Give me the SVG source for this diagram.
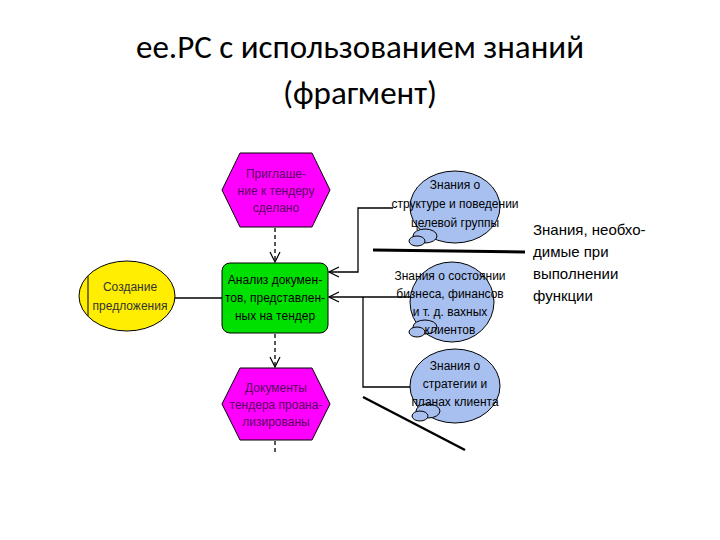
<svg xmlns="http://www.w3.org/2000/svg" width="720" height="540" viewBox="0 0 720 540">
<defs>
<style>
.t{font-family:"Liberation Sans",Arial,sans-serif;font-size:12px;text-anchor:middle;stroke:none}
.ev polygon{fill:#ff00ff;stroke:#000;stroke-width:1}
.ev text{fill:#5a0060}
.bub{fill:#a8c0f0;stroke:#000;stroke-width:1}
.ln{stroke:#000;fill:none;stroke-width:1.3}
.ds{stroke:#000;fill:none;stroke-width:1.3;stroke-dasharray:4 3}
</style>
<marker id="ar" markerWidth="12" markerHeight="12" refX="11" refY="6" orient="auto" markerUnits="userSpaceOnUse"><path d="M1,1 L11,6 L1,11" fill="none" stroke="#000" stroke-width="1.2"/></marker>
</defs>
<rect width="720" height="540" fill="#fff"/>
<text x="360" y="58" font-family="Calibri,'Liberation Sans',sans-serif" font-size="33" text-anchor="middle">ee.PC с использованием знаний</text>
<text x="360" y="104" font-family="Calibri,'Liberation Sans',sans-serif" font-size="33" text-anchor="middle">(фрагмент)</text>
<g id="connectors">
<path class="ds" d="M275,228 V262" marker-end="url(#ar)"/>
<path class="ds" d="M275,334 V367" marker-end="url(#ar)"/>
<path class="ds" d="M275,441 V452"/>
<path class="ln" d="M175,298 H222"/>
<path class="ln" d="M393,208 H358 V272 H329" marker-end="url(#ar)"/>
<path class="ln" d="M410,297 H329" marker-end="url(#ar)"/>
<path class="ln" d="M363,297 V387 H410"/>
<path d="M373,250 L525,252" stroke="#000" stroke-width="3"/>
<path d="M363,397 L465,450" stroke="#000" stroke-width="2.5"/>
</g>
<g id="n1" class="ev"><polygon points="240,153 312,153 330,190 312,227 240,227 222,190"/><text class="t" x="276" y="178">Приглаше-</text><text class="t" x="276" y="195">ние к тендеру</text><text class="t" x="276" y="212">сделано</text></g>
<g id="n2"><rect x="222" y="263" width="106" height="70" rx="8" fill="#00e000" stroke="#000"/><text class="t" x="275" y="284">Анализ докумен-</text><text class="t" x="275" y="302">тов, представлен-</text><text class="t" x="275" y="320">ных на тендер</text></g>
<g id="n3"><ellipse cx="127" cy="296" rx="48" ry="35" fill="#ffee00" stroke="#000"/><path d="M88,276 V316" stroke="#000"/><text class="t" x="130" y="291" fill="#333">Создание</text><text class="t" x="130" y="310" fill="#333">предложения</text></g>
<g id="n4" class="ev"><polygon points="240,368 312,368 330,404 312,440 240,440 222,404"/><text class="t" x="276" y="392">Документы</text><text class="t" x="276" y="409">тендера проана-</text><text class="t" x="276" y="426">лизированы</text></g>
<g id="k1"><ellipse class="bub" cx="455" cy="207" rx="45" ry="36"/><ellipse class="bub" cx="425" cy="236" rx="12" ry="7"/><ellipse class="bub" cx="417" cy="241" rx="8" ry="5"/><text class="t" x="455" y="189">Знания о</text><text class="t" x="455" y="208">структуре и поведении</text><text class="t" x="455" y="227">целевой группы</text></g>
<g id="k2"><ellipse class="bub" cx="452" cy="302" rx="42" ry="40"/><ellipse class="bub" cx="425" cy="327" rx="12" ry="7"/><ellipse class="bub" cx="417" cy="332" rx="8" ry="5"/><text class="t" x="450" y="280">Знания о состоянии</text><text class="t" x="450" y="298">бизнеса, финансов</text><text class="t" x="450" y="316">и т. д. вахных</text><text class="t" x="450" y="334">клиентов</text></g>
<g id="k3"><ellipse class="bub" cx="455" cy="386" rx="45" ry="37"/><ellipse class="bub" cx="428" cy="411" rx="12" ry="7"/><ellipse class="bub" cx="420" cy="416" rx="8" ry="5"/><text class="t" x="455" y="370">Знания о</text><text class="t" x="455" y="388">стратегии и</text><text class="t" x="455" y="406">планах клиента</text></g>
<g id="note" font-family="'Liberation Sans',Arial,sans-serif" font-size="15"><text x="533" y="235">Знания, необхо-</text><text x="533" y="257">димые при</text><text x="533" y="279">выполнении</text><text x="533" y="301">функции</text></g>
</svg>
